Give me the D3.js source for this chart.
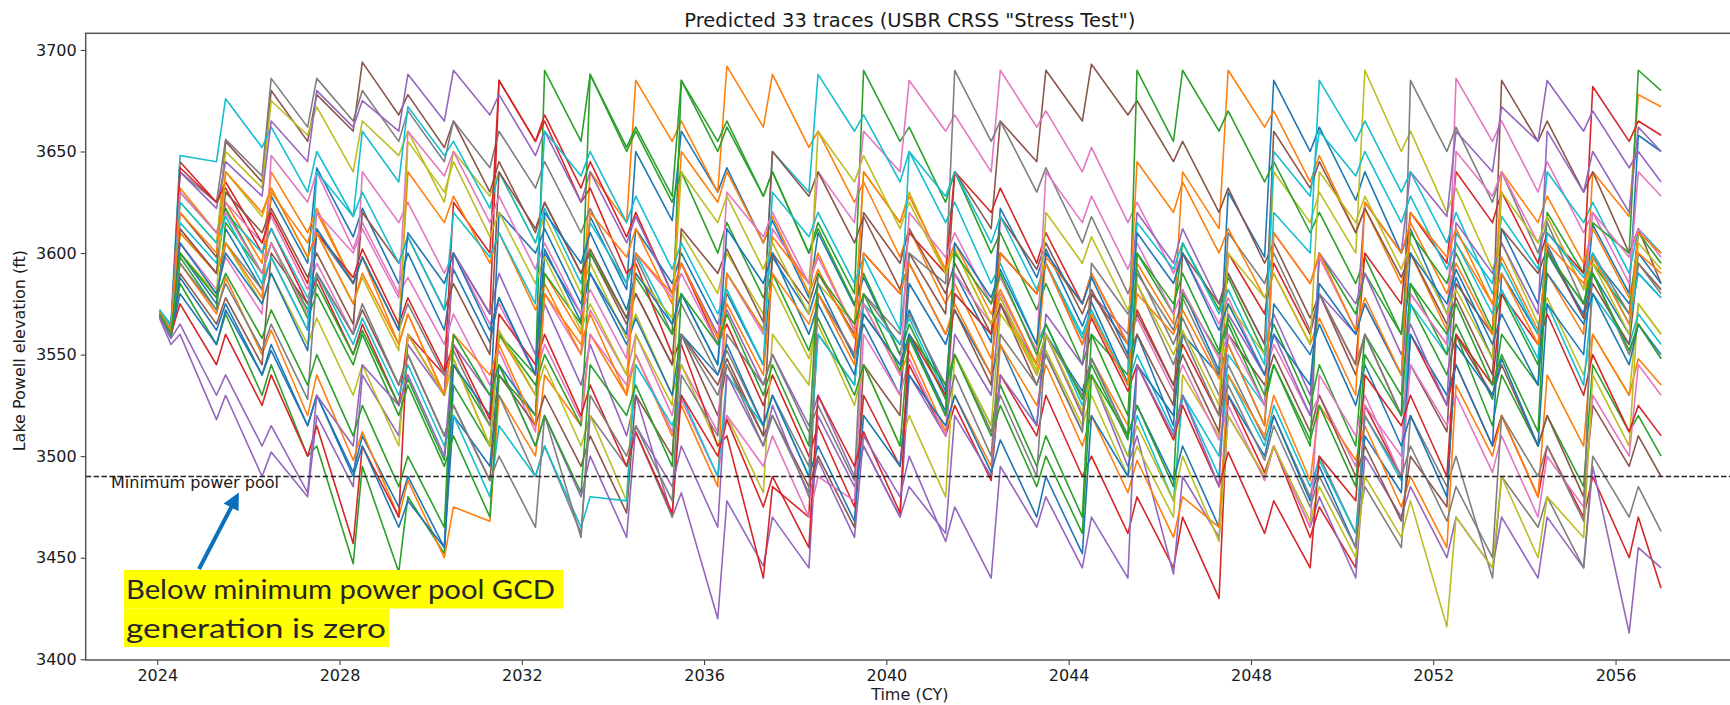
<!DOCTYPE html>
<html>
<head>
<meta charset="utf-8">
<script src="https://cdn.jsdelivr.net/npm/d3@7/dist/d3.min.js"></script>
<style>
  body { margin: 0; background: #fff; }
  svg { display: block; }
  text { font-family: "DejaVu Sans", sans-serif; fill: #1a1a1a; }
</style>
</head>
<body>
<div id="chart"></div>
<script>
// every trace: level in Jan 2024, then (spring low, summer high) for each year 2024..2056, then level at the end of 2056
var tr01 = [3570, 3562,3600, 3575,3612, 3582,3628, 3595,3642, 3608,3622, 3585,3600, 3562,3592, 3556,3578, 3540,3602, 3566,3618, 3582,3650, 3616,3660, 3630,3642, 3605,3616, 3578,3610, 3574,3588, 3550,3572, 3532,3590, 3556,3622, 3588,3602, 3564,3576, 3536,3560, 3515,3582, 3542,3630, 3598,3685, 3650,3662, 3626,3640, 3600,3612, 3570,3588, 3548,3612, 3575,3604, 3568,3614, 3580,3658, 3650];
var tr02 = [3571, 3561,3632, 3610,3625, 3595,3640, 3610,3622, 3585,3598, 3555,3570, 3530,3548, 3505,3560, 3530,3590, 3560,3640, 3615,3685, 3655,3665, 3630,3692, 3662,3688, 3652,3660, 3625,3635, 3598,3612, 3575,3585, 3548,3575, 3540,3560, 3520,3548, 3515,3595, 3565,3640, 3612,3690, 3662,3670, 3635,3648, 3610,3622, 3585,3600, 3562,3605, 3575,3598, 3562,3590, 3560,3640, 3618,3678, 3672];
var tr03 = [3569, 3558,3585, 3555,3570, 3530,3545, 3500,3505, 3447,3495, 3443,3480, 3452,3535, 3505,3560, 3540,3690, 3655,3688, 3652,3662, 3628,3685, 3655,3665, 3628,3640, 3600,3615, 3580,3690, 3655,3662, 3625,3640, 3600,3610, 3572,3585, 3545,3560, 3520,3600, 3570,3605, 3572,3588, 3550,3565, 3525,3545, 3505,3560, 3530,3575, 3540,3560, 3515,3540, 3505,3520, 3485,3545, 3512,3520, 3500];
var tr04 = [3570, 3560,3645, 3625,3632, 3600,3612, 3575,3588, 3550,3565, 3525,3560, 3530,3600, 3570,3685, 3655,3668, 3632,3645, 3608,3620, 3580,3595, 3555,3565, 3525,3540, 3500,3515, 3475,3530, 3495,3545, 3510,3525, 3488,3540, 3510,3530, 3490,3500, 3462,3480, 3445,3470, 3430,3530, 3492,3505, 3460,3475, 3445,3525, 3490,3560, 3525,3545, 3505,3520, 3480,3505, 3470,3490, 3450,3470, 3435];
var tr05 = [3568, 3555,3560, 3518,3530, 3490,3502, 3480,3520, 3485,3540, 3510,3555, 3530,3600, 3570,3590, 3550,3575, 3535,3555, 3510,3530, 3470,3482, 3420,3478, 3446,3470, 3445,3520, 3485,3505, 3470,3540, 3510,3560, 3530,3575, 3545,3560, 3520,3540, 3495,3510, 3442,3490, 3460,3520, 3490,3505, 3465,3480, 3440,3500, 3470,3485, 3450,3470, 3445,3470, 3440,3470, 3445,3495, 3413,3455, 3445];
var tr06 = [3572, 3563,3620, 3598,3655, 3635,3680, 3655,3678, 3660,3694, 3668,3678, 3652,3665, 3630,3645, 3610,3625, 3590,3600, 3565,3580, 3545,3560, 3520,3545, 3510,3520, 3485,3500, 3465,3545, 3520,3600, 3570,3640, 3612,3665, 3645,3690, 3665,3693, 3668,3675, 3645,3655, 3620,3632, 3595,3605, 3568,3580, 3540,3560, 3520,3545, 3512,3585, 3560,3685, 3655,3665, 3630,3640, 3600,3612, 3585];
var tr07 = [3570, 3562,3605, 3582,3598, 3570,3648, 3625,3640, 3602,3615, 3580,3588, 3555,3570, 3535,3552, 3512,3580, 3550,3572, 3540,3560, 3520,3545, 3512,3590, 3560,3612, 3585,3640, 3615,3660, 3640,3685, 3660,3668, 3640,3690, 3662,3670, 3640,3652, 3615,3625, 3590,3600, 3565,3578, 3540,3555, 3520,3530, 3495,3525, 3500,3580, 3555,3686, 3655,3665, 3630,3645, 3610,3620, 3585,3640, 3628];
var tr08 = [3571, 3563,3640, 3625,3656, 3638,3686, 3662,3686, 3665,3680, 3655,3670, 3645,3665, 3642,3660, 3632,3645, 3610,3622, 3585,3598, 3560,3575, 3540,3552, 3515,3530, 3495,3560, 3535,3580, 3560,3600, 3585,3690, 3655,3665, 3630,3642, 3605,3618, 3580,3592, 3555,3568, 3530,3545, 3508,3520, 3480,3500, 3462,3485, 3455,3520, 3485,3500, 3440,3490, 3465,3480, 3445,3500, 3470,3485, 3463];
var tr09 = [3570, 3562,3625, 3605,3650, 3632,3675, 3658,3672, 3640,3665, 3648,3660, 3625,3650, 3628,3640, 3605,3618, 3580,3595, 3558,3570, 3530,3545, 3505,3520, 3482,3560, 3535,3585, 3565,3640, 3615,3630, 3590,3602, 3565,3578, 3540,3552, 3515,3530, 3490,3505, 3470,3540, 3510,3575, 3550,3640, 3615,3630, 3600,3690, 3650,3660, 3620,3632, 3592,3605, 3565,3578, 3540,3560, 3530,3575, 3560];
var tr10 = [3572, 3565,3648, 3645,3676, 3652,3662, 3630,3650, 3618,3660, 3635,3672, 3648,3655, 3622,3640, 3605,3622, 3585,3615, 3585,3600, 3565,3580, 3545,3590, 3562,3650, 3630,3688, 3660,3668, 3635,3650, 3615,3625, 3585,3595, 3555,3565, 3525,3540, 3500,3520, 3478,3530, 3500,3540, 3505,3525, 3485,3498, 3462,3520, 3488,3575, 3550,3610, 3585,3618, 3592,3640, 3615,3625, 3590,3612, 3600];
var tr11 = [3569, 3559,3580, 3555,3572, 3540,3552, 3515,3530, 3492,3510, 3475,3490, 3455,3520, 3495,3545, 3520,3600, 3570,3590, 3560,3612, 3585,3600, 3565,3580, 3545,3598, 3570,3585, 3548,3565, 3530,3585, 3555,3572, 3540,3555, 3515,3560, 3532,3548, 3510,3525, 3488,3505, 3465,3530, 3500,3520, 3478,3495, 3455,3510, 3482,3560, 3530,3545, 3505,3590, 3560,3600, 3570,3590, 3560,3600, 3585];
var tr12 = [3570, 3560,3595, 3570,3588, 3550,3562, 3520,3540, 3498,3512, 3470,3488, 3450,3475, 3468,3530, 3500,3540, 3515,3560, 3530,3550, 3510,3525, 3485,3590, 3562,3608, 3585,3600, 3562,3575, 3540,3552, 3512,3530, 3495,3555, 3525,3545, 3505,3520, 3482,3498, 3460,3480, 3465,3540, 3510,3530, 3488,3525, 3498,3515, 3475,3490, 3455,3535, 3500,3520, 3480,3540, 3505,3560, 3530,3548, 3535];
var tr13 = [3571, 3561,3598, 3572,3615, 3590,3605, 3572,3585, 3550,3562, 3525,3538, 3498,3545, 3515,3560, 3535,3550, 3515,3600, 3568,3588, 3560,3685, 3650,3662, 3628,3640, 3600,3612, 3575,3590, 3550,3565, 3528,3550, 3515,3535, 3495,3510, 3470,3560, 3540,3690, 3655,3690, 3660,3670, 3635,3645, 3610,3620, 3585,3598, 3560,3585, 3550,3565, 3528,3560, 3535,3620, 3590,3615, 3600,3690, 3680];
var tr14 = [3570, 3560,3575, 3545,3560, 3525,3540, 3500,3515, 3457,3505, 3470,3560, 3540,3625, 3600,3685, 3655,3665, 3625,3632, 3590,3595, 3550,3555, 3505,3510, 3440,3485, 3470,3580, 3550,3600, 3580,3610, 3590,3640, 3620,3632, 3595,3610, 3575,3590, 3555,3572, 3535,3555, 3520,3600, 3570,3595, 3560,3580, 3545,3600, 3575,3620, 3595,3640, 3615,3630, 3595,3610, 3590,3682, 3655,3665, 3658];
var tr15 = [3571, 3562,3640, 3622,3645, 3628,3665, 3645,3680, 3662,3675, 3660,3688, 3665,3690, 3668,3678, 3648,3660, 3625,3640, 3605,3618, 3580,3595, 3560,3572, 3535,3550, 3515,3530, 3490,3505, 3470,3485, 3462,3520, 3490,3540, 3515,3570, 3545,3580, 3560,3620, 3595,3612, 3575,3590, 3555,3570, 3530,3580, 3560,3625, 3600,3640, 3618,3660, 3640,3672, 3655,3685, 3660,3670, 3642,3650, 3635];
var tr16 = [3570, 3560,3590, 3565,3578, 3545,3600, 3575,3590, 3560,3572, 3535,3550, 3510,3525, 3488,3540, 3515,3530, 3495,3510, 3472,3530, 3500,3560, 3535,3548, 3510,3600, 3575,3590, 3560,3620, 3595,3612, 3580,3595, 3560,3575, 3535,3550, 3512,3580, 3555,3570, 3535,3550, 3512,3560, 3535,3550, 3512,3530, 3490,3505, 3468,3500, 3475,3560, 3530,3545, 3505,3520, 3480,3525, 3495,3510, 3490];
var tr17 = [3569, 3560,3612, 3590,3625, 3605,3618, 3582,3595, 3560,3640, 3615,3625, 3590,3600, 3565,3575, 3540,3555, 3518,3560, 3535,3550, 3512,3528, 3490,3520, 3495,3510, 3470,3490, 3478,3560, 3530,3548, 3510,3590, 3565,3580, 3545,3600, 3575,3590, 3555,3568, 3532,3545, 3508,3525, 3488,3505, 3465,3540, 3510,3530, 3490,3545, 3515,3530, 3492,3510, 3470,3500, 3475,3530, 3500,3545, 3530];
var tr18 = [3570, 3561,3600, 3578,3605, 3582,3598, 3562,3610, 3585,3598, 3562,3575, 3540,3552, 3515,3530, 3490,3505, 3462,3520, 3495,3512, 3470,3540, 3510,3560, 3535,3550, 3512,3525, 3488,3580, 3555,3570, 3535,3550, 3512,3530, 3490,3560, 3530,3548, 3510,3590, 3562,3578, 3540,3610, 3585,3600, 3562,3580, 3545,3560, 3520,3685, 3650,3662, 3625,3640, 3600,3615, 3575,3590, 3550,3565, 3548];
var tr19 = [3571, 3562,3610, 3590,3605, 3575,3590, 3555,3568, 3530,3545, 3505,3560, 3530,3548, 3505,3562, 3530,3545, 3505,3520, 3478,3560, 3525,3610, 3580,3600, 3570,3585, 3548,3565, 3525,3545, 3505,3520, 3480,3550, 3515,3570, 3545,3560, 3522,3540, 3500,3515, 3478,3500, 3458,3520, 3490,3505, 3468,3485, 3450,3490, 3460,3478, 3416,3470, 3445,3490, 3450,3480, 3460,3540, 3505,3575, 3560];
var tr20 = [3572, 3564,3615, 3595,3620, 3600,3612, 3578,3590, 3555,3568, 3530,3545, 3505,3520, 3480,3515, 3490,3505, 3465,3480, 3478,3545, 3515,3530, 3490,3540, 3515,3530, 3490,3560, 3535,3575, 3555,3568, 3530,3580, 3560,3600, 3580,3595, 3558,3570, 3535,3550, 3512,3530, 3490,3550, 3525,3620, 3600,3685, 3655,3665, 3630,3640, 3605,3620, 3580,3595, 3560,3575, 3535,3580, 3555,3570, 3555];
var tr21 = [3570, 3561,3588, 3562,3575, 3540,3555, 3515,3530, 3490,3505, 3465,3478, 3455,3545, 3520,3620, 3600,3612, 3575,3590, 3555,3568, 3530,3560, 3540,3555, 3515,3530, 3490,3505, 3468,3520, 3495,3540, 3515,3530, 3492,3508, 3470,3490, 3452,3520, 3490,3545, 3520,3560, 3540,3555, 3515,3575, 3550,3565, 3525,3545, 3505,3520, 3480,3555, 3530,3548, 3505,3575, 3550,3598, 3575,3590, 3578];
var tr22 = [3570, 3561,3610, 3590,3605, 3578,3630, 3605,3620, 3585,3598, 3562,3640, 3615,3628, 3595,3610, 3572,3585, 3550,3620, 3598,3612, 3575,3650, 3625,3640, 3605,3618, 3580,3592, 3558,3640, 3615,3628, 3592,3605, 3570,3582, 3545,3598, 3575,3590, 3555,3645, 3620,3635, 3600,3612, 3578,3590, 3555,3568, 3530,3625, 3600,3615, 3580,3595, 3560,3640, 3615,3628, 3595,3612, 3578,3600, 3590];
var tr23 = [3571, 3562,3630, 3610,3622, 3590,3605, 3568,3580, 3545,3560, 3520,3535, 3495,3510, 3470,3540, 3520,3590, 3565,3688, 3650,3660, 3625,3640, 3600,3615, 3578,3590, 3552,3568, 3530,3545, 3505,3560, 3535,3550, 3510,3525, 3485,3500, 3462,3540, 3510,3525, 3485,3580, 3550,3565, 3525,3545, 3505,3600, 3570,3590, 3560,3610, 3585,3600, 3562,3580, 3545,3600, 3575,3595, 3570,3610, 3595];
var tr24 = [3570, 3561,3642, 3625,3635, 3605,3620, 3585,3610, 3588,3602, 3565,3578, 3542,3555, 3518,3570, 3545,3560, 3520,3535, 3495,3512, 3472,3530, 3500,3518, 3475,3490, 3455,3530, 3495,3512, 3472,3560, 3530,3580, 3560,3600, 3580,3595, 3555,3568, 3532,3545, 3508,3525, 3485,3502, 3462,3478, 3445,3500, 3478,3540, 3515,3530, 3490,3560, 3535,3580, 3555,3570, 3530,3550, 3512,3525, 3510];
var tr25 = [3569, 3558,3565, 3530,3540, 3505,3515, 3482,3530, 3505,3545, 3525,3540, 3500,3555, 3530,3545, 3505,3520, 3480,3500, 3460,3515, 3485,3505, 3465,3540, 3505,3525, 3480,3498, 3460,3510, 3480,3500, 3458,3475, 3440,3495, 3465,3480, 3445,3470, 3440,3545, 3510,3530, 3485,3570, 3540,3560, 3520,3600, 3575,3590, 3550,3565, 3525,3615, 3590,3605, 3570,3660, 3630,3650, 3620,3662, 3650];
var tr26 = [3570, 3561,3612, 3590,3630, 3610,3622, 3588,3600, 3565,3620, 3595,3608, 3572,3585, 3550,3640, 3612,3625, 3590,3602, 3568,3580, 3545,3612, 3590,3602, 3566,3650, 3628,3640, 3605,3618, 3582,3595, 3560,3572, 3535,3618, 3592,3605, 3570,3582, 3548,3560, 3525,3600, 3575,3590, 3555,3660, 3632,3645, 3610,3622, 3588,3600, 3565,3578, 3540,3612, 3590,3602, 3568,3585, 3555,3595, 3582];
var tr27 = [3570, 3562,3630, 3610,3620, 3590,3605, 3570,3620, 3600,3612, 3578,3660, 3638,3650, 3615,3628, 3592,3605, 3570,3582, 3548,3600, 3578,3590, 3555,3630, 3608,3620, 3585,3598, 3562,3575, 3540,3620, 3598,3610, 3575,3588, 3552,3640, 3615,3628, 3592,3605, 3570,3582, 3548,3560, 3525,3610, 3585,3598, 3562,3575, 3540,3580, 3555,3650, 3628,3640, 3605,3618, 3582,3620, 3598,3612, 3598];
var tr28 = [3571, 3562,3595, 3572,3585, 3552,3565, 3528,3590, 3560,3575, 3535,3550, 3510,3525, 3488,3500, 3465,3520, 3460,3530, 3500,3515, 3478,3560, 3530,3545, 3505,3520, 3482,3580, 3550,3570, 3545,3560, 3520,3540, 3500,3560, 3535,3550, 3512,3595, 3570,3585, 3545,3560, 3520,3535, 3498,3515, 3475,3490, 3455,3520, 3490,3505, 3468,3485, 3450,3520, 3490,3505, 3468,3600, 3570,3595, 3580];
var tr29 = [3570, 3561,3600, 3580,3640, 3618,3632, 3598,3610, 3575,3588, 3552,3655, 3630,3645, 3608,3620, 3585,3598, 3562,3575, 3540,3590, 3568,3640, 3615,3628, 3592,3605, 3570,3660, 3635,3648, 3612,3625, 3590,3602, 3565,3578, 3542,3620, 3595,3608, 3572,3585, 3550,3562, 3525,3600, 3578,3590, 3555,3640, 3615,3628, 3592,3605, 3570,3582, 3548,3630, 3605,3618, 3582,3595, 3560,3605, 3592];
var tr30 = [3572, 3563,3625, 3605,3618, 3585,3598, 3562,3640, 3618,3630, 3595,3608, 3572,3620, 3598,3610, 3575,3660, 3638,3650, 3615,3628, 3592,3605, 3570,3582, 3545,3630, 3608,3620, 3585,3598, 3562,3650, 3628,3640, 3605,3618, 3582,3595, 3560,3572, 3535,3615, 3592,3605, 3570,3582, 3545,3650, 3628,3660, 3638,3650, 3615,3628, 3592,3605, 3570,3582, 3548,3610, 3588,3600, 3565,3590, 3578];
var tr31 = [3570, 3561,3605, 3580,3600, 3575,3590, 3552,3612, 3585,3598, 3562,3610, 3585,3600, 3562,3578, 3540,3620, 3595,3610, 3572,3590, 3565,3580, 3545,3612, 3585,3600, 3560,3575, 3540,3570, 3545,3560, 3522,3605, 3578,3592, 3555,3600, 3575,3588, 3550,3610, 3585,3600, 3562,3575, 3540,3560, 3535,3585, 3560,3575, 3540,3600, 3575,3592, 3555,3570, 3535,3590, 3565,3580, 3545,3565, 3550];
var tr32 = [3571, 3562,3620, 3600,3640, 3620,3632, 3598,3610, 3575,3590, 3555,3570, 3530,3560, 3540,3555, 3515,3580, 3555,3570, 3530,3600, 3580,3595, 3558,3575, 3540,3590, 3565,3580, 3545,3600, 3580,3595, 3560,3575, 3540,3600, 3580,3595, 3555,3570, 3535,3580, 3560,3572, 3538,3555, 3515,3610, 3585,3600, 3562,3578, 3540,3620, 3598,3612, 3575,3590, 3555,3605, 3585,3598, 3565,3610, 3600];
var tr33 = [3570, 3560,3600, 3578,3590, 3558,3572, 3535,3550, 3510,3525, 3485,3500, 3465,3560, 3530,3545, 3505,3520, 3482,3545, 3520,3535, 3495,3580, 3555,3570, 3530,3545, 3505,3590, 3565,3580, 3542,3558, 3520,3600, 3575,3590, 3550,3565, 3528,3545, 3508,3600, 3575,3590, 3552,3568, 3530,3545, 3508,3525, 3485,3550, 3520,3585, 3560,3575, 3535,3550, 3512,3600, 3575,3590, 3552,3565, 3548];

var traces = [tr01, tr02, tr03, tr04, tr05, tr06, tr07, tr08, tr09, tr10, tr11,
              tr12, tr13, tr14, tr15, tr16, tr17, tr18, tr19, tr20, tr21, tr22,
              tr23, tr24, tr25, tr26, tr27, tr28, tr29, tr30, tr31, tr32, tr33];

var firstYear = 2024, lastYear = 2056;
var lowMonth = 0.3, highMonth = 0.5;      // fraction of year where the spring low / summer high fall
var xTicks = [2024, 2028, 2032, 2036, 2040, 2044, 2048, 2052, 2056];
var yTicks = [3400, 3450, 3500, 3550, 3600, 3650, 3700];
var minPowerPool = 3490;
var colors = ['#1f77b4', '#ff7f0e', '#2ca02c', '#d62728', '#9467bd',
              '#8c564b', '#e377c2', '#7f7f7f', '#bcbd22', '#17becf'];

var width = 1730, height = 705;
var plotL = 85.7, plotR = 1734, plotT = 33.3, plotB = 660;

var svg = d3.select('#chart').append('svg')
            .attr('width', width)
            .attr('height', height);

var x = d3.scaleLinear().domain([2022.43, 2058.6]).range([plotL, plotR]);
var y = d3.scaleLinear().domain([3399.65, 3708.2]).range([plotB, plotT]);

function tracePoints(tr){
  var pts = [[firstYear + 0.05, tr[0]]];
  for (var i = 0; i <= lastYear - firstYear; i++) {
    pts.push([firstYear + i + lowMonth, tr[1 + 2 * i]]);
    pts.push([firstYear + i + highMonth, tr[2 + 2 * i]]);
  }
  pts.push([lastYear + 1, tr[tr.length - 1]]);
  return pts.filter(function(p){ return p[1] != null; });
}

svg.append('clipPath').attr('id', 'plotclip')
   .append('rect')
   .attr('x', plotL).attr('y', plotT)
   .attr('width', plotR - plotL).attr('height', plotB - plotT);

var line = d3.line()
             .x(function(d){ return x(d[0]); })
             .y(function(d){ return y(d[1]); });

svg.append('g').attr('clip-path', 'url(#plotclip)')
   .selectAll('path')
   .data(traces)
   .enter().append('path')
   .attr('d', function(d){ return line(tracePoints(d)); })
   .style('fill', 'none')
   .style('stroke', function(d, i){ return colors[i % 10]; })
   .style('stroke-width', 1.6)
   .style('stroke-linejoin', 'round');

// minimum power pool
svg.append('line')
   .attr('x1', plotL).attr('x2', plotR)
   .attr('y1', y(minPowerPool)).attr('y2', y(minPowerPool))
   .style('stroke', '#222')
   .style('stroke-width', 1.5)
   .style('stroke-dasharray', '5.5,2.4');

svg.append('text')
   .attr('x', 111).attr('y', y(minPowerPool) + 12)
   .style('font-size', '16px')
   .text('Minimum power pool');

// axes
var xAxis = d3.axisBottom(x).tickValues(xTicks).tickFormat(d3.format('d')).tickSize(5).tickPadding(5);
var yAxis = d3.axisLeft(y).tickValues(yTicks).tickFormat(d3.format('d')).tickSize(5).tickPadding(4);

var gx = svg.append('g').attr('transform', 'translate(0,' + plotB + ')').call(xAxis);
var gy = svg.append('g').attr('transform', 'translate(' + plotL + ',0)').call(yAxis);
[gx, gy].forEach(function(g){
  g.select('.domain').remove();
  g.selectAll('line').style('stroke', '#333').style('stroke-width', 1);
  g.selectAll('text').style('font-size', '16px').style('font-family', '"DejaVu Sans", sans-serif').style('fill', '#1a1a1a');
});

// frame (right side falls outside the picture)
svg.append('rect')
   .attr('x', plotL).attr('y', plotT)
   .attr('width', plotR - plotL).attr('height', plotB - plotT)
   .style('fill', 'none')
   .style('stroke', '#555')
   .style('stroke-width', 1.5);

svg.append('text')
   .attr('x', (plotL + plotR) / 2).attr('y', 27)
   .attr('text-anchor', 'middle')
   .style('font-size', '19.5px')
   .text('Predicted 33 traces (USBR CRSS "Stress Test")');

svg.append('text')
   .attr('x', (plotL + plotR) / 2).attr('y', 700)
   .attr('text-anchor', 'middle')
   .style('font-size', '16px')
   .text('Time (CY)');

svg.append('text')
   .attr('transform', 'translate(25,' + ((plotT + plotB) / 2 + 4) + ') rotate(-90)')
   .attr('text-anchor', 'middle')
   .style('font-size', '16px')
   .text('Lake Powell elevation (ft)');

// highlighted note with arrow
var noteLines = ['Below minimum power pool GCD', 'generation is zero'];
var noteWidths = [429, 260];
var noteX = 124, noteTop = 570, noteLineH = 38.5;
var note = svg.append('g');
noteLines.forEach(function(t, i){
  note.append('rect')
      .attr('x', noteX).attr('y', noteTop + i * noteLineH)
      .attr('width', noteWidths[i] + (i === 0 ? 10 : 5)).attr('height', noteLineH)
      .style('fill', '#ffff00');
  note.append('text')
      .attr('x', noteX + 2).attr('y', noteTop + 29 + i * noteLineH)
      .attr('textLength', noteWidths[i])
      .attr('lengthAdjust', 'spacingAndGlyphs')
      .style('font-family', 'Lato, "Open Sans", sans-serif')
      .style('font-size', '26.5px')
      .style('fill', '#262626')
      .text(t);
});

svg.append('defs').append('marker')
   .attr('id', 'head').attr('viewBox', '0 0 10 10')
   .attr('refX', 5).attr('refY', 5)
   .attr('markerWidth', 4.2).attr('markerHeight', 4.2)
   .attr('orient', 'auto')
   .append('path').attr('d', 'M0,0 L10,5 L0,10 z').style('fill', '#0a70bd');

svg.append('line')
   .attr('x1', 199).attr('y1', 569)
   .attr('x2', 235).attr('y2', 500)
   .style('stroke', '#0a70bd')
   .style('stroke-width', 4)
   .attr('marker-end', 'url(#head)');
</script>
</body>
</html>
